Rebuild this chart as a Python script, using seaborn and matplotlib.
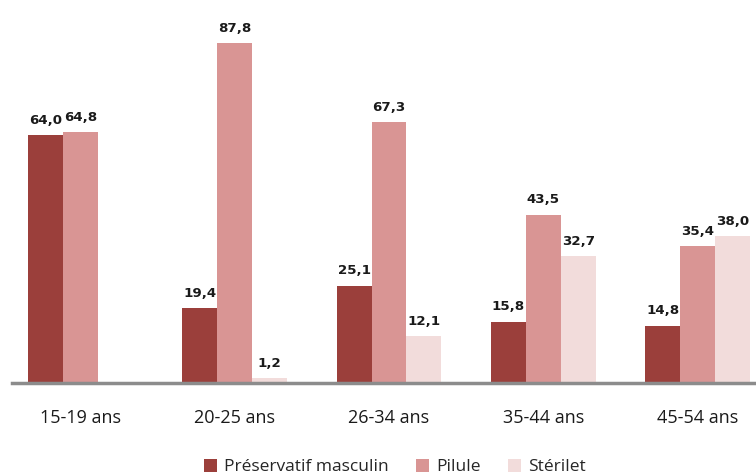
import matplotlib
matplotlib.use("Agg")
import matplotlib.pyplot as plt
import seaborn as sns
import pandas as pd
import numpy as np
from matplotlib.patches import Patch

categories = ["15-19 ans", "20-25 ans", "26-34 ans", "35-44 ans", "45-54 ans"]
series = ["Préservatif masculin", "Pilule", "Stérilet"]
preservatif = [64.0, 19.4, 25.1, 15.8, 14.8]
pilule = [64.8, 87.8, 67.3, 43.5, 35.4]
sterilet = [np.nan, 1.2, 12.1, 32.7, 38.0]
colors = ["#9B3F3B", "#D99594", "#F2DCDB"]

rows = []
for s, vals in zip(series, [preservatif, pilule, sterilet]):
    for c, v in zip(categories, vals):
        rows.append({"Age": c, "Méthode": s, "Valeur": v})
df = pd.DataFrame(rows)

sns.set_style("white")
plt.rcParams['font.family'] = ['DejaVu Sans']

fig = plt.figure(figsize=(7.56, 4.75), dpi=100)
W, H = 756, 475
ax = fig.add_axes([12 / W, 1 - 383 / H, (756 - 12) / W, (383 - 10) / H])

sns.barplot(data=df, x="Age", y="Valeur", hue="Méthode", order=categories,
            hue_order=series, palette=colors, width=0.68, saturation=1,
            ax=ax, legend=False, linewidth=0)

for cont in ax.containers:
    labels = []
    for b in cont:
        h = b.get_height()
        labels.append("" if (h is None or np.isnan(h)) else f"{h:.1f}".replace(".", ","))
    ax.bar_label(cont, labels=labels, padding=6, fontsize=9.6, fontweight="bold",
                 color="#1a1a1a")

ax.set_xlim((12 - 80.5) / 154.25, (756 - 80.5) / 154.25)
ax.set_ylim(0, 373 / 3.872)
ax.set_xlabel("")
ax.set_ylabel("")
ax.set_yticks([])
for sp in ["top", "right", "left"]:
    ax.spines[sp].set_visible(False)
ax.spines["bottom"].set_color("#8C8C8C")
ax.spines["bottom"].set_linewidth(2.5)
ax.tick_params(axis="x", length=0, pad=19, labelsize=13)
for t in ax.get_xticklabels():
    t.set_fontfamily(["Open Sans", "DejaVu Sans"])
    t.set_color("#1a1a1a")

handles = [Patch(facecolor=c, edgecolor="none") for c in colors]
fig.legend(handles, series, loc="center", bbox_to_anchor=(395 / W, 1 - 467 / H),
           ncol=3, frameon=False, handlelength=0.75, handleheight=0.75,
           handletextpad=0.4, columnspacing=1.6,
           prop={"family": ["Open Sans", "DejaVu Sans"], "size": 12.5})

fig.savefig("out.png", dpi=100)
